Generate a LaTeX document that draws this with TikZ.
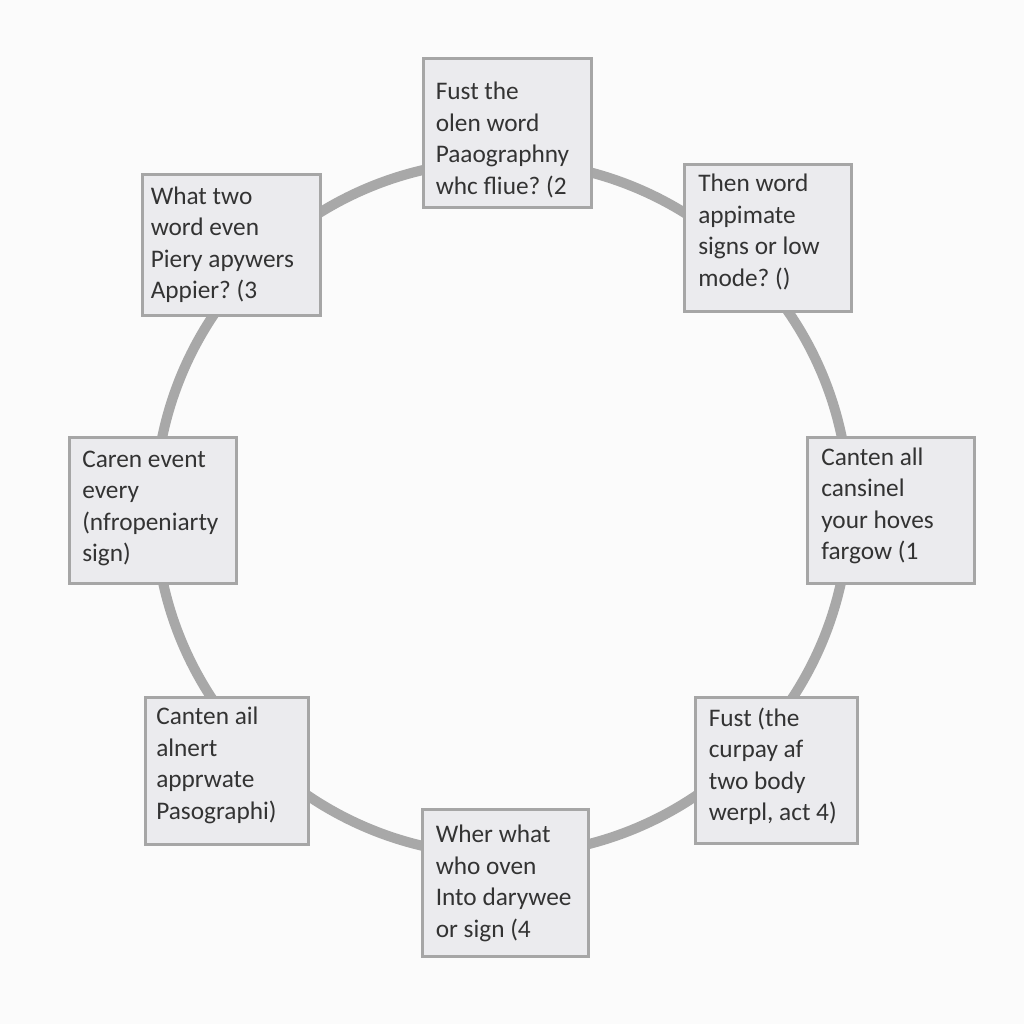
\documentclass[tikz,border=0pt]{standalone}
\usepackage{fontspec}
\setmainfont{Carlito}
\usepackage{xcolor}
\definecolor{paper}{HTML}{FBFBFB}
\definecolor{ringgray}{HTML}{A8A8A8}
\definecolor{boxfill}{HTML}{EBEBEE}
\definecolor{boxline}{HTML}{A6A6A6}
\definecolor{textgray}{HTML}{333333}
\frenchspacing
\tikzset{
    cardbox/.style={draw=boxline, line width=0.75mm, fill=boxfill, inner sep=0pt},
    cardtext/.style={anchor=north west, inner sep=0pt, align=left, text=textgray,
        font=\fontsize{18}{22.4}\selectfont}
}

\begin{document}
\begin{tikzpicture}[x=0.25mm, y=-0.25mm]
        \fill[paper] (0,0) rectangle (1024,1024);
        \useasboundingbox (0,0) rectangle (1024,1024);

        \coordinate (hub) at (502,508);
        \draw[ringgray, line width=2.5mm] (hub) circle [radius=347];

        \foreach \n/\x/\y/\w/\h/\dx/\dy/\txt in {
            1/507/133/168/149/14/25/{Fust the\\olen word\\Paaographny\\whc fliue? (2},
            2/768/238/167/147/15/11/{Then word\\appimate\\signs or low\\mode? ()},
            3/891/510/167/146/15/12/{Canten all\\cansinel\\your hoves\\fargow (1},
            4/776/770/162/146/15/12/{Fust (the\\curpay af\\two body\\werpl, act 4)},
            5/505/883/166/147/15/17/{Wher what\\who oven\\Into darywee\\or sign (4},
            6/227/771/163/147/12/11/{Canten ail\\alnert\\apprwate\\Pasographi)},
            7/153/510/167/146/14/15/{Caren event\\every\\(nfropeniarty\\sign)},
            8/231/245/178/140/10/13/{What two\\word even\\Piery apywers\\Appier? (3}}
        {
            \node[cardbox, minimum width=\w*0.25mm, minimum height=\h*0.25mm] (card\n) at (\x,\y) {};
            \node[cardtext] (label\n) at ([shift={(\dx,\dy)}]card\n.north west) {\txt};
        }
\end{tikzpicture}
\end{document}
